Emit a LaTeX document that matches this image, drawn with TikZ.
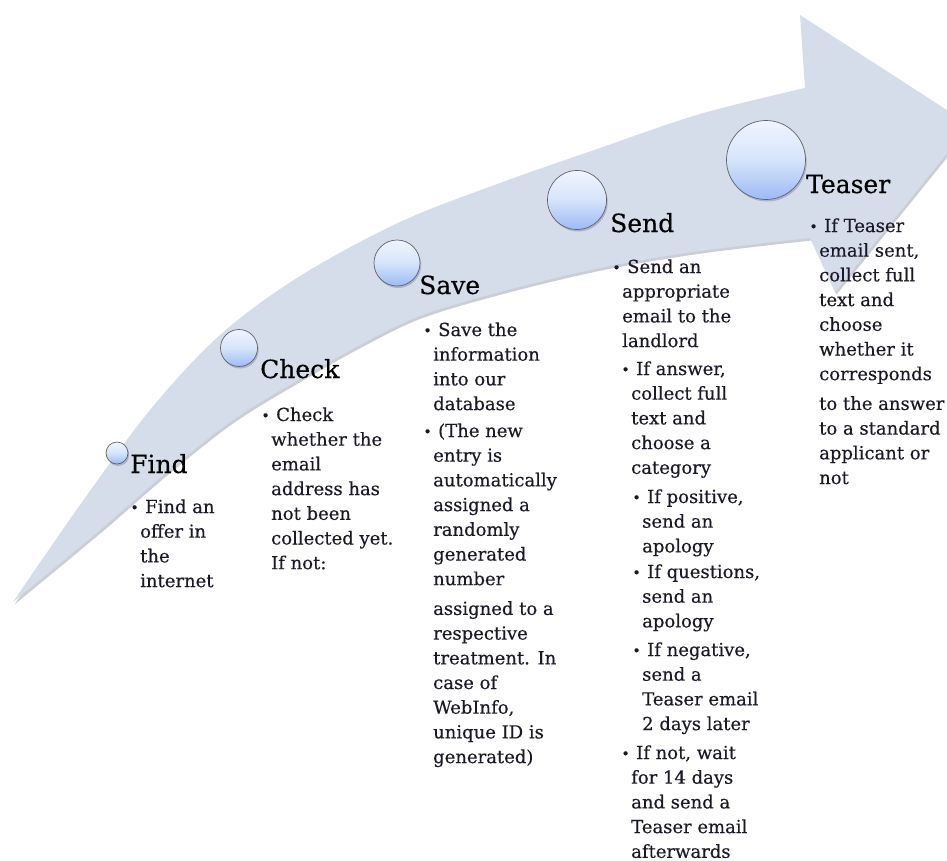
\documentclass[tikz,border=0pt]{standalone}
\usepackage{fontspec}
\setmainfont{DejaVu Serif}[FakeBold=0.35]

\definecolor{bandfill}{RGB}{213,220,234}
\definecolor{bandshade}{RGB}{140,146,162}
\definecolor{dottop}{RGB}{240,245,254}
\definecolor{dotmid}{RGB}{214,228,251}
\definecolor{dotbottom}{RGB}{156,186,245}
\definecolor{dotline}{RGB}{95,98,108}
\definecolor{ink}{RGB}{28,24,38}

\newcommand\bodysize{\fontsize{18}{24.7}\selectfont}
\newcommand\headsize{\fontsize{25}{30}\selectfont}
% bullet hung to the left of the text column
\newcommand\bulmark{\llap{{\fontsize{14}{14}\selectfont\raisebox{0.5pt}{•}}\hspace{1.5pt}}\hspace{5pt}}
\newcommand\steptext[1]{\begin{tabular}[t]{@{}l@{}}#1\end{tabular}}

% outline of the curved arrow
\def\bandpath{plot[smooth,tension=0.55] coordinates {(13,602) (80,505) (150,410) (220,335) (300,276) (400,222) (500,183) (600,148) (700,114) (805,88)}
  -- (800,15) -- (970,125) -- (835,292) -- (810,238)
  -- plot[smooth,tension=0.55] coordinates {(810,238) (700,251) (600,268) (500,292) (420,316) (360,345) (300,379) (233,420) (167,472) (100,530) (13,602)} -- cycle}

\begin{document}
\begin{tikzpicture}[x=1pt,y=-1pt,
  dot/.style={circle,draw=dotline,line width=0.7pt,inner sep=0pt,
    top color=dottop,bottom color=dotbottom,middle color=dotmid},
  dotshadow/.style={circle,fill=black,opacity=0.18,inner sep=0pt},
  head/.style={anchor=base west,inner sep=0pt,font=\headsize,text=black},
  body/.style={anchor=base west,inner sep=0pt,font=\bodysize,text=ink}]
\useasboundingbox (0,0) rectangle (947,860);

\begin{scope}
\clip (0,0) rectangle (947,860);
\fill[bandshade,opacity=0.45,shift={(1.5,2.5)}] \bandpath;
\fill[bandfill] \bandpath;
\end{scope}

% stage markers along the arrow
\foreach \nm/\px/\py/\r in {find/117/453/11, check/239/348/18.5, save/397/263/23, send/577/200/29.5, teaser/766/160/39.5}{
  \node[dotshadow,minimum size=2*\r pt] (\nm s) at (\px+1.2,\py+2) {};
  \node[dot,minimum size=2*\r pt] (\nm) at (\px,\py) {};
}

% Find
\node[head] (hfind) at (130,473) {Find};
\node[body] (tfind) at (140,513) {\steptext{\bulmark Find an\\offer in\\the\\internet}};

% Check
\node[head] (hcheck) at (260,378) {Check};
\node[body] (tcheck) at (271,421) {\steptext{\bulmark Check\\whether the\\email\\address has\\not been\\collected yet.\\If not:}};

% Save
\node[head] (hsave) at (419,294) {Save};
\node[body] (tsavea) at (433,336) {\steptext{\bulmark Save the\\information\\into our\\database}};
\node[body] (tsaveb) at (433,437) {\steptext{\bulmark (The new\\entry is\\automatically\\assigned a\\randomly\\generated\\number\\[5pt]assigned to a\\respective\\treatment. In\\case of\\WebInfo,\\unique ID is\\generated)}};

% Send
\node[head] (hsend) at (610,232) {Send};
\node[body] (tsenda) at (622,273) {\steptext{\bulmark Send an\\appropriate\\email to the\\landlord}};
\node[body] (tsendb) at (631,375) {\steptext{\bulmark If answer,\\collect full\\text and\\choose a\\category}};
\node[body] (tsendc) at (642,503) {\steptext{\bulmark If positive,\\send an\\apology}};
\node[body] (tsendd) at (642,578) {\steptext{\bulmark If questions,\\send an\\apology}};
\node[body] (tsende) at (642,656) {\steptext{\bulmark If negative,\\send a\\Teaser email\\2 days later}};
\node[body] (tsendf) at (631,759) {\steptext{\bulmark If not, wait\\for 14 days\\and send a\\Teaser email\\afterwards}};

% Teaser
\node[head] (hteaser) at (806,193) {Teaser};
\node[body] (tteaser) at (819,232) {\steptext{\bulmark If Teaser\\email sent,\\collect full\\text and\\choose\\whether it\\corresponds\\[5pt]to the answer\\to a standard\\applicant or\\not}};
\end{tikzpicture}
\end{document}
